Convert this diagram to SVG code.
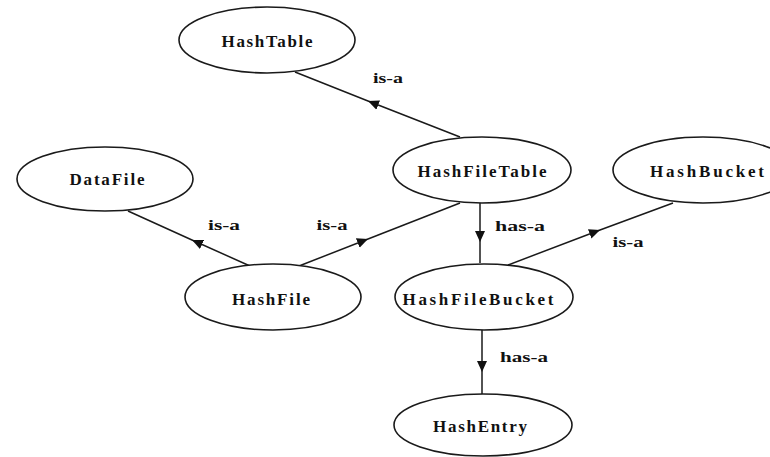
<svg xmlns="http://www.w3.org/2000/svg" width="770" height="457" viewBox="0 0 770 457">
  <style>
    .node ellipse { fill: #ffffff; stroke: #1a1a1a; stroke-width: 1.6; }
    .node text { font-family: "Liberation Serif", "DejaVu Serif", serif; font-weight: bold; font-size: 17px; fill: #111111; text-anchor: middle; }
    .edge { fill: none; stroke: #1a1a1a; stroke-width: 1.5; marker-mid: url(#tri); }
    .lbl { font-family: "Liberation Serif", "DejaVu Serif", serif; font-weight: bold; font-size: 15px; fill: #111111; text-anchor: middle; }
  </style>
  <defs>
    <marker id="tri" viewBox="0 -6 11 12" refX="11" refY="0" markerWidth="11" markerHeight="12" markerUnits="userSpaceOnUse" orient="auto">
      <path d="M0,-5 L11,0 L0,5 Z" fill="#111111"/>
    </marker>
  </defs>
  <rect width="770" height="457" fill="#ffffff"/>

  <g id="connectors">
    <!-- HashFileTable is-a HashTable -->
    <polyline class="edge" points="460,137 368,101 295,72"/>
    <!-- HashFile is-a DataFile -->
    <polyline class="edge" points="250,266 192,240 128,211"/>
    <!-- HashFile is-a HashFileTable -->
    <polyline class="edge" points="299,266 368,239 460,203"/>
    <!-- HashFileTable has-a HashFileBucket -->
    <polyline class="edge" points="480,203 480,242 480,263"/>
    <!-- HashFileBucket is-a HashBucket -->
    <polyline class="edge" points="508,265 600,230 673,203"/>
    <!-- HashFileBucket has-a HashEntry -->
    <polyline class="edge" points="482,330 482,372 482,394"/>

    <text class="lbl" x="388" y="83" textLength="30" lengthAdjust="spacingAndGlyphs">is-a</text>
    <text class="lbl" x="224" y="230" textLength="32" lengthAdjust="spacingAndGlyphs">is-a</text>
    <text class="lbl" x="332" y="230" textLength="31" lengthAdjust="spacingAndGlyphs">is-a</text>
    <text class="lbl" x="520" y="231" textLength="50" lengthAdjust="spacingAndGlyphs">has-a</text>
    <text class="lbl" x="628" y="247" textLength="31" lengthAdjust="spacingAndGlyphs">is-a</text>
    <text class="lbl" x="524" y="362" textLength="48" lengthAdjust="spacingAndGlyphs">has-a</text>
  </g>

  <g id="HashTable" class="node">
    <ellipse cx="267" cy="40" rx="88" ry="33"/>
    <text x="267" y="47" textLength="91" lengthAdjust="spacing">HashTable</text>
  </g>
  <g id="DataFile" class="node">
    <ellipse cx="105" cy="179" rx="88" ry="32"/>
    <text x="107" y="185" textLength="75" lengthAdjust="spacing">DataFile</text>
  </g>
  <g id="HashFileTable" class="node">
    <ellipse cx="482" cy="170" rx="89" ry="33"/>
    <text x="482" y="177" textLength="129" lengthAdjust="spacing">HashFileTable</text>
  </g>
  <g id="HashBucket" class="node">
    <ellipse cx="703" cy="170" rx="90" ry="33"/>
    <text x="707" y="177" textLength="114" lengthAdjust="spacing">HashBucket</text>
  </g>
  <g id="HashFile" class="node">
    <ellipse cx="273" cy="297" rx="88" ry="33"/>
    <text x="271" y="305" textLength="78" lengthAdjust="spacing">HashFile</text>
  </g>
  <g id="HashFileBucket" class="node">
    <ellipse cx="484" cy="297" rx="89" ry="33"/>
    <text x="478" y="305" textLength="151" lengthAdjust="spacing">HashFileBucket</text>
  </g>
  <g id="HashEntry" class="node">
    <ellipse cx="483" cy="425" rx="89" ry="31"/>
    <text x="480" y="432" textLength="94" lengthAdjust="spacing">HashEntry</text>
  </g>
</svg>
